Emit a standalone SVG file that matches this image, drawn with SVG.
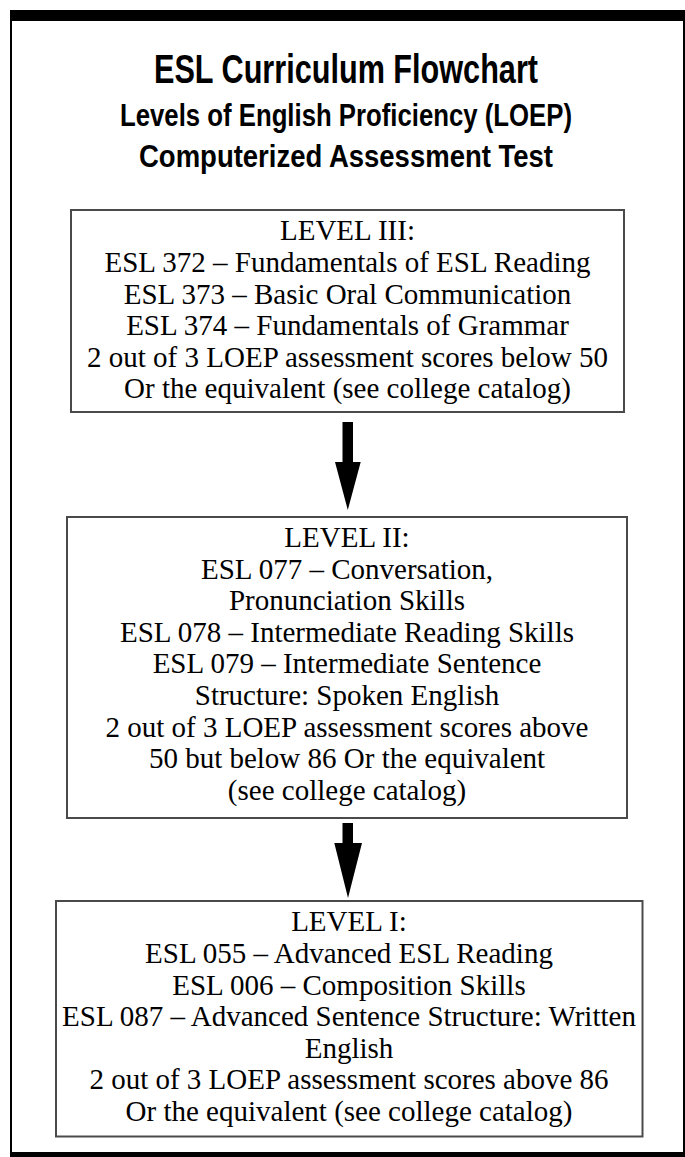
<svg xmlns="http://www.w3.org/2000/svg" width="685" height="1157" viewBox="0 0 685 1157">
<style>
.frame{fill:#000}
.box{fill:#fff;stroke:#4a4a4a;stroke-width:2}
.t{font-family:"Liberation Serif","Times New Roman",serif;font-size:29px;fill:#000;text-anchor:middle}
.h{font-family:"Liberation Sans",Arial,sans-serif;font-weight:bold;fill:#000;text-anchor:middle}
.arrow{fill:#000}
</style>
<rect width="685" height="1157" fill="#fff"/>
<g id="frame">
<rect class="frame" x="10" y="10" width="675" height="11"/>
<rect class="frame" x="10" y="10" width="2" height="1147"/>
<rect class="frame" x="683" y="10" width="2" height="1147"/>
<rect class="frame" x="10" y="1152" width="675" height="5"/>
</g>
<g id="title">
<text class="h" x="346" y="83" font-size="40" textLength="384" lengthAdjust="spacingAndGlyphs">ESL Curriculum Flowchart</text>
<text class="h" x="346" y="126" font-size="32" textLength="452" lengthAdjust="spacingAndGlyphs">Levels of English Proficiency (LOEP)</text>
<text class="h" x="346" y="167" font-size="32" textLength="414" lengthAdjust="spacingAndGlyphs">Computerized Assessment Test</text>
</g>
<g id="level3">
<rect class="box" x="71" y="210" width="553" height="202"/>
<text class="t" x="347.5" y="240.3">LEVEL III:</text>
<text class="t" x="347.5" y="271.9">ESL 372 – Fundamentals of ESL Reading</text>
<text class="t" x="347.5" y="303.5">ESL 373 – Basic Oral Communication</text>
<text class="t" x="347.5" y="335.1">ESL 374 – Fundamentals of Grammar</text>
<text class="t" x="347.5" y="366.7">2 out of 3 LOEP assessment scores below 50</text>
<text class="t" x="347.5" y="398.3">Or the equivalent (see college catalog)</text>
</g>
<g id="level2">
<rect class="box" x="67" y="517" width="560" height="301"/>
<text class="t" x="347" y="547">LEVEL II:</text>
<text class="t" x="347" y="578.6">ESL 077 – Conversation,</text>
<text class="t" x="347" y="610.2">Pronunciation Skills</text>
<text class="t" x="347" y="641.8">ESL 078 – Intermediate Reading Skills</text>
<text class="t" x="347" y="673.4">ESL 079 – Intermediate Sentence</text>
<text class="t" x="347" y="705">Structure: Spoken English</text>
<text class="t" x="347" y="736.6">2 out of 3 LOEP assessment scores above</text>
<text class="t" x="347" y="768.2">50 but below 86 Or the equivalent</text>
<text class="t" x="347" y="799.8">(see college catalog)</text>
</g>
<g id="level1">
<rect class="box" x="56" y="901" width="586.5" height="235.5"/>
<text class="t" x="349" y="931.3">LEVEL I:</text>
<text class="t" x="349" y="962.9">ESL 055 – Advanced ESL Reading</text>
<text class="t" x="349" y="994.5">ESL 006 – Composition Skills</text>
<text class="t" x="349" y="1026.1">ESL 087 – Advanced Sentence Structure: Written</text>
<text class="t" x="349" y="1057.7">English</text>
<text class="t" x="349" y="1089.3">2 out of 3 LOEP assessment scores above 86</text>
<text class="t" x="349" y="1120.9">Or the equivalent (see college catalog)</text>
</g>
<g id="connectors">
<path class="arrow" d="M342.5,422 H353 V462 H360.7 L347.8,510 L335,462 H342.5 Z"/>
<path class="arrow" d="M342.5,823 H353 V843 H362 L348,898 L334.3,843 H342.5 Z"/>
</g>
</svg>
